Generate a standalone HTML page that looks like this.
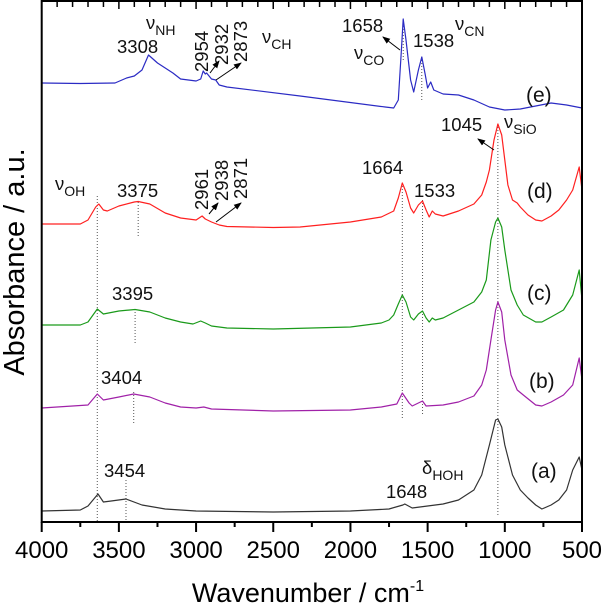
<!DOCTYPE html>
<html><head><meta charset="utf-8"><style>
html,body{margin:0;padding:0;background:#fff;}
svg{display:block;font-family:"Liberation Sans",Arial,sans-serif;}
</style></head><body>
<svg id="chart" width="604" height="607" viewBox="0 0 604 607" xmlns="http://www.w3.org/2000/svg">
<g id="marks"></g>
<rect x="41.7" y="1" width="540.3" height="521" fill="none" stroke="#000" stroke-width="2"/>
<g id="ticks"></g>
<text x="308" y="602" font-size="27" text-anchor="middle">Wavenumber / cm<tspan dy="-11" font-size="16">-1</tspan></text>
<text transform="translate(24,262) rotate(-90)" font-size="29" text-anchor="middle">Absorbance / a.u.</text>
<g font-size="18.5" fill="#111">
<text x="117" y="53">3308</text>
<text x="146" y="29">ν<tspan dy="6" font-size="14">NH</tspan></text>
<text transform="translate(208,72) rotate(-90)">2954</text>
<text transform="translate(228,65) rotate(-90)">2932</text>
<text transform="translate(247,62) rotate(-90)">2873</text>
<text x="262" y="43">ν<tspan dy="6" font-size="14">CH</tspan></text>
<text x="342" y="32">1658</text>
<text x="354" y="59">ν<tspan dy="6" font-size="14">CO</tspan></text>
<text x="413" y="47">1538</text>
<text x="455" y="30">ν<tspan dy="6" font-size="14">CN</tspan></text>
<text x="526" y="102" font-size="21">(e)</text>
<text x="441" y="131">1045</text>
<text x="504" y="128">ν<tspan dy="6" font-size="14">SiO</tspan></text>
<text x="527" y="198" font-size="21">(d)</text>
<text x="362" y="174">1664</text>
<text x="414" y="197">1533</text>
<text x="55" y="190">ν<tspan dy="6" font-size="14">OH</tspan></text>
<text x="117" y="197">3375</text>
<text transform="translate(208,210) rotate(-90)">2961</text>
<text transform="translate(228,201) rotate(-90)">2938</text>
<text transform="translate(247,199) rotate(-90)">2871</text>
<text x="112" y="300">3395</text>
<text x="527" y="300" font-size="21">(c)</text>
<text x="101" y="384">3404</text>
<text x="529" y="388" font-size="21">(b)</text>
<text x="104" y="477">3454</text>
<text x="386" y="498">1648</text>
<text x="422" y="474">δ<tspan dy="6" font-size="14">HOH</tspan></text>
<text x="531" y="478" font-size="21">(a)</text>
</g>
<defs><marker id="ah" markerWidth="8" markerHeight="8" refX="7" refY="4" orient="auto"><path d="M0,1 L8,4 L0,7 z" fill="#000"/></marker></defs>
<g stroke="#000" stroke-width="1">
<line x1="210" y1="73" x2="219" y2="61" marker-end="url(#ah)"/>
<line x1="216" y1="80" x2="241" y2="63" marker-end="url(#ah)"/>
<line x1="400" y1="50" x2="383" y2="37" marker-end="url(#ah)"/>
<line x1="494" y1="150" x2="478" y2="139" marker-end="url(#ah)"/>
<line x1="209" y1="214" x2="218" y2="203" marker-end="url(#ah)"/>
<line x1="216" y1="222" x2="241" y2="203" marker-end="url(#ah)"/>
</g>
</svg>
<script>
const wnE=[4000,3750,3525,3450,3400,3350,3308,3250,3200,3150,3100,3050,3000,2970,2954,2940,2932,2900,2873,2850,2800,2326,1775,1720,1690,1670,1658,1640,1610,1590,1560,1538,1515,1500,1480,1460,1400,1300,1200,1100,1000,900,800,700,600,500];
const absE=[439,438.5,439,444,446,452,467,459,454,449,443,442,441,443,451,448,449,443,442,437,435,426,415,414,422,472,503,482,442,430,452,465,447,434,440,432,428,427,422,415,412,413,416,419,417,414];
const wnD=[4000,3750,3700,3650,3630,3600,3575,3500,3400,3375,3300,3200,3100,3000,2961,2940,2900,2850,2800,2500,2326,2000,1800,1720,1690,1664,1640,1610,1590,1560,1533,1510,1490,1470,1450,1400,1300,1200,1150,1120,1100,1070,1045,1020,1000,980,950,920,900,850,800,760,700,650,600,560,518,500];
const absD=[298,298,302,315,318,312,311,316,320,320.5,318,309,304,302,306,303,300,297,295.5,294.5,295,300,305,311,324,339,330,314,309,317,321,312,305,311,308,306,311,318,327,340,352,382,398,387,362,337,322,319,315,307,302,301,306,312,322,332,355,332];
const wnC=[4000,3750,3700,3640,3600,3500,3395,3300,3200,3100,3020,2970,2940,2900,2800,2500,2000,1800,1750,1720,1690,1664,1640,1610,1590,1560,1533,1510,1490,1470,1450,1400,1300,1200,1150,1120,1090,1060,1045,1020,1000,960,920,880,800,760,700,620,560,518,500];
const absC=[197,197,200,213,208,211,212.5,210,204,200,198,201,199,196,194,193,195,199,202,207,218,227,220,205,202,208,211,204,200,204,202,204,212,220,230,242,282,300,304,295,272,232,217,207,200,200,205,212,227,252,222];
const wnB=[4000,3700,3640,3600,3500,3404,3300,3200,3100,3000,2950,2900,2500,2000,1800,1700,1664,1620,1600,1533,1510,1400,1300,1200,1150,1120,1090,1060,1045,1020,1000,960,920,880,800,760,700,620,560,518,500];
const absB=[114,117,128,122,125,128,125,119,115,114,115,113,111,112,115,118,129,119,116,121,116,117,120,126,137,152,182,212,220,210,182,147,132,127,117,116,120,127,137,164,142];
const wnA=[4000,3750,3700,3635,3600,3550,3454,3350,3200,3000,2500,2000,1750,1660,1648,1600,1500,1400,1300,1200,1150,1100,1060,1045,1020,1000,950,900,850,800,760,700,650,600,560,518,500];
const absA=[11,12,16,28,20,21,23,17,13,11,10,11,13,17,18,14,16,18,22,32,47,77,102,103,95,77,47,32,24,17,13,17,22,32,52,65,52];
const xTicks=[4000,3500,3000,2500,2000,1500,1000,500];
const dropWn=[3640,3454,3404,3395,3375,1664,1533,1045,1658,1538];
const dropTop=[196,480,392,309,202,183,200,124,20,57];
const dropBot=[522,522,424,343,238,420,415,515,62,100];

const X0=41.7,X1=582,W0=4000,W1=500;
function xs(w){return X0+(W0-w)*(X1-X0)/(W0-W1);}
function ys(v){return 522-v;}
const NS="http://www.w3.org/2000/svg";
const marks=document.getElementById('marks');
const ticks=document.getElementById('ticks');

for(let i=0;i<dropWn.length;i++){
  const l=document.createElementNS(NS,'line');
  
  
  l.setAttribute('x1',xs(dropWn[i]));l.setAttribute('x2',xs(dropWn[i]));
  l.setAttribute('y1',dropTop[i]);l.setAttribute('y2',dropBot[i]);
  l.setAttribute('stroke','#555');l.setAttribute('stroke-width','1');l.setAttribute('stroke-dasharray','1,2');
  marks.appendChild(l);
}
const series=[[wnE,absE,'#2b2bc4','spectrum-e'],[wnD,absD,'#ff2020','spectrum-d'],[wnC,absC,'#1a9a1a','spectrum-c'],[wnB,absB,'#a021a8','spectrum-b'],[wnA,absA,'#333333','spectrum-a']];
series.forEach(s=>{
  const p=document.createElementNS(NS,'polyline');
  
  
  p.setAttribute('points',s[0].map((w,i)=>xs(w).toFixed(1)+','+ys(s[1][i]).toFixed(1)).join(' '));
  p.setAttribute('fill','none');p.setAttribute('stroke',s[2]);p.setAttribute('stroke-width','1.2');p.setAttribute('stroke-linejoin','round');
  marks.appendChild(p);
});
for(let w=4000;w>=500;w-=250){
  const maj=(w%500===0);
  const t=document.createElementNS(NS,'line');
  
  
  t.setAttribute('x1',xs(w));t.setAttribute('x2',xs(w));t.setAttribute('y1',522);t.setAttribute('y2',maj?532:527);
  t.setAttribute('stroke','#000');t.setAttribute('stroke-width','2');
  ticks.appendChild(t);
}
for(let w=4000;w>=500;w-=100){
  const t=document.createElementNS(NS,'line');
  
  
  t.setAttribute('x1',xs(w));t.setAttribute('x2',xs(w));t.setAttribute('y1',1);t.setAttribute('y2',(w%500===0)?9:7);
  t.setAttribute('stroke','#000');t.setAttribute('stroke-width','1.5');
  ticks.appendChild(t);
}
xTicks.forEach(w=>{
  const t=document.createElementNS(NS,'text');
  
  
  t.setAttribute('x',xs(w));t.setAttribute('y',558);t.setAttribute('font-size','24');t.setAttribute('text-anchor','middle');
  t.textContent=w;
  ticks.appendChild(t);
});
</script>
</body></html>
